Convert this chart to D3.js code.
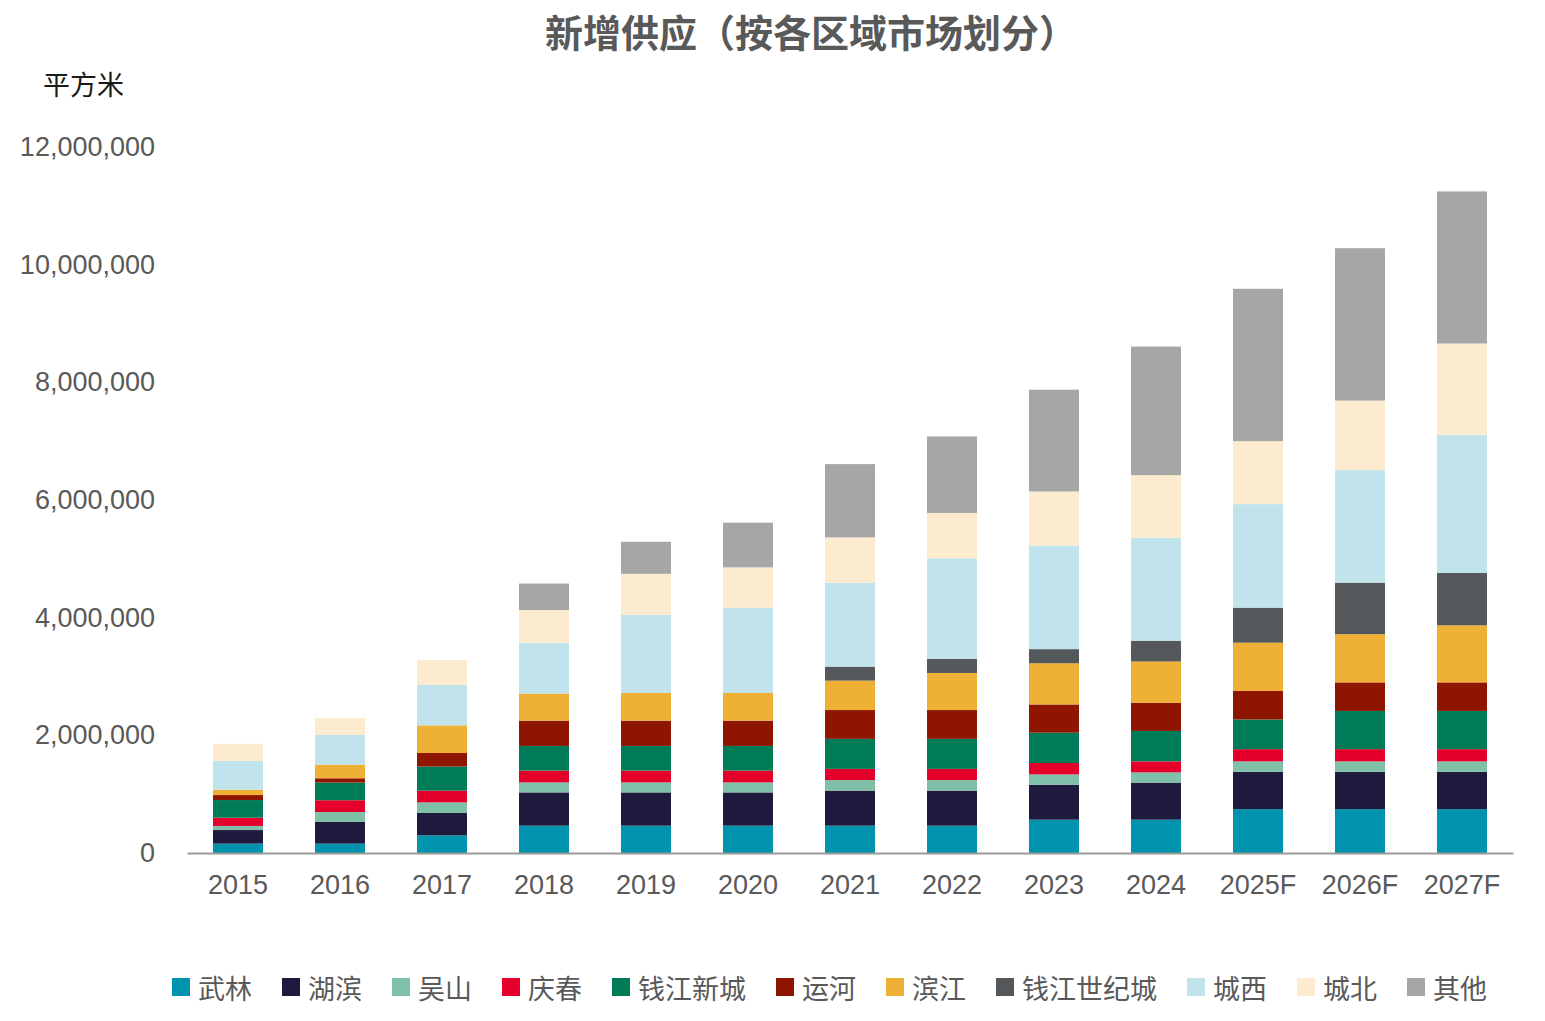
<!DOCTYPE html>
<html>
<head>
<meta charset="utf-8">
<script src="https://cdn.jsdelivr.net/npm/d3@7"></script>
<style>
  body { margin: 0; background: #fff; }
  text { font-family: "Liberation Sans", Arial, sans-serif; }
  .cjk { font-family: "Noto Sans CJK SC", "Noto Sans", sans-serif; }
</style>
</head>
<body>
<div id="chart"></div>
<script>

var years = ["2015", "2016", "2017", "2018", "2019", "2020", "2021", "2022", "2023", "2024", "2025F", "2026F", "2027F"];

var regions = ["武林", "湖滨", "吴山", "庆春", "钱江新城", "运河", "滨江", "钱江世纪城", "城西", "城北", "其他"];

var wulin      = [160000, 160000, 300000, 465000, 465000, 465000, 465000, 465000, 566000, 566000, 745000, 745000, 745000];
var hubin      = [230000, 367000, 380000, 565000, 565000, 565000, 595000, 595000, 594000, 630000, 635000, 635000, 635000];
var wushan     = [70000, 170000, 180000, 170000, 170000, 170000, 180000, 180000, 176000, 175000, 177000, 177000, 177000];
var qingchun   = [140000, 200000, 200000, 200000, 200000, 200000, 190000, 190000, 194000, 187000, 208000, 208000, 208000];
var qjxc       = [300000, 300000, 410000, 420000, 420000, 420000, 510000, 510000, 515000, 517000, 505000, 650000, 650000];
var yunhe      = [85000, 73000, 230000, 430000, 430000, 430000, 490000, 490000, 480000, 480000, 485000, 485000, 485000];
var binjiang   = [90000, 230000, 470000, 460000, 470000, 470000, 500000, 630000, 700000, 700000, 820000, 820000, 970000];
var qjsjc      = [0, 0, 0, 0, 0, 0, 237000, 240000, 240000, 353000, 595000, 875000, 890000];
var chengxi    = [490000, 506000, 685000, 865000, 1330000, 1450000, 1428000, 1710000, 1760000, 1750000, 1760000, 1915000, 2350000];
var chengbei   = [290000, 290000, 425000, 555000, 695000, 685000, 770000, 770000, 920000, 1065000, 1070000, 1180000, 1550000];
var others     = [0, 0, 0, 450000, 545000, 760000, 1245000, 1300000, 1730000, 2185000, 2590000, 2590000, 2585000];

var yTicks = [0, 2000000, 4000000, 6000000, 8000000, 10000000, 12000000];

var colors = ["#0093ae", "#1e1a3e", "#80bfa8", "#e4002b", "#007b57", "#8e1500", "#efb135", "#54585a", "#c1e3eb", "#fcebcf", "#a6a6a6"];

var series = [wulin, hubin, wushan, qingchun, qjxc, yunhe, binjiang, qjsjc, chengxi, chengbei, others];

// build rows for d3.stack
var rows = years.map(function(y, i) {
  var r = { year: y };
  regions.forEach(function(name, k) { r[name] = series[k][i]; });
  return r;
});

var width = 1545, height = 1021;

var svg = d3.select("#chart").append("svg")
  .attr("width", width)
  .attr("height", height);

var x = d3.scaleBand()
  .domain(years)
  .range([187, 1513])
  .paddingInner(0.51)
  .paddingOuter(0.255);

var y = d3.scaleLinear()
  .domain([0, 12000000])
  .range([853, 147]);

var color = d3.scaleOrdinal().domain(regions).range(colors);

var stacked = d3.stack().keys(regions)(rows);

svg.append("g")
  .selectAll("g")
  .data(stacked)
  .enter().append("g")
    .attr("fill", function(d) { return color(d.key); })
  .selectAll("rect")
  .data(function(d) { return d; })
  .enter().append("rect")
    .attr("x", function(d) { return x(d.data.year); })
    .attr("y", function(d) { return y(d[1]); })
    .attr("width", x.bandwidth())
    .attr("height", function(d) { return y(d[0]) - y(d[1]); });

// x axis
var xAxis = svg.append("g")
  .attr("transform", "translate(0," + y(0) + ")")
  .call(d3.axisBottom(x).tickSize(0).tickPadding(22).tickSizeOuter(0));
xAxis.select(".domain").attr("stroke", "#999").attr("stroke-width", 2);
xAxis.selectAll("text")
  .attr("fill", "#595959")
  .style("font-size", "27px")
  .style("font-family", "'Liberation Sans', Arial, sans-serif");

// y axis
var yAxis = svg.append("g")
  .attr("transform", "translate(187,0)")
  .call(d3.axisLeft(y).tickValues(yTicks).tickFormat(d3.format(",")).tickSize(0).tickPadding(32));
yAxis.select(".domain").remove();
yAxis.selectAll("text")
  .attr("fill", "#595959")
  .style("font-size", "27px")
  .style("font-family", "'Liberation Sans', Arial, sans-serif");

// title + unit
svg.append("text")
  .attr("class", "cjk")
  .attr("x", 811)
  .attr("y", 30)
  .attr("text-anchor", "middle")
  .attr("dominant-baseline", "central")
  .attr("fill", "#595959")
  .style("font-size", "38px")
  .style("font-weight", "bold")
  .text("新增供应（按各区域市场划分）");

svg.append("text")
  .attr("class", "cjk")
  .attr("x", 43)
  .attr("y", 83)
  .attr("dominant-baseline", "central")
  .attr("fill", "#1a1a1a")
  .style("font-size", "27px")
  .text("平方米");

// legend
var legend = svg.append("g").attr("transform", "translate(172,978)");
var lx = 0;
regions.forEach(function(name) {
  var item = legend.append("g").attr("transform", "translate(" + lx + ",0)");
  item.append("rect")
    .attr("width", 18)
    .attr("height", 18)
    .attr("fill", color(name));
  var t = item.append("text")
    .attr("class", "cjk")
    .attr("x", 26)
    .attr("y", 9)
    .attr("dominant-baseline", "central")
    .attr("fill", "#595959")
    .style("font-size", "27px")
    .text(name);
  lx += 26 + t.node().getComputedTextLength() + 30;
});

</script>
</body>
</html>
